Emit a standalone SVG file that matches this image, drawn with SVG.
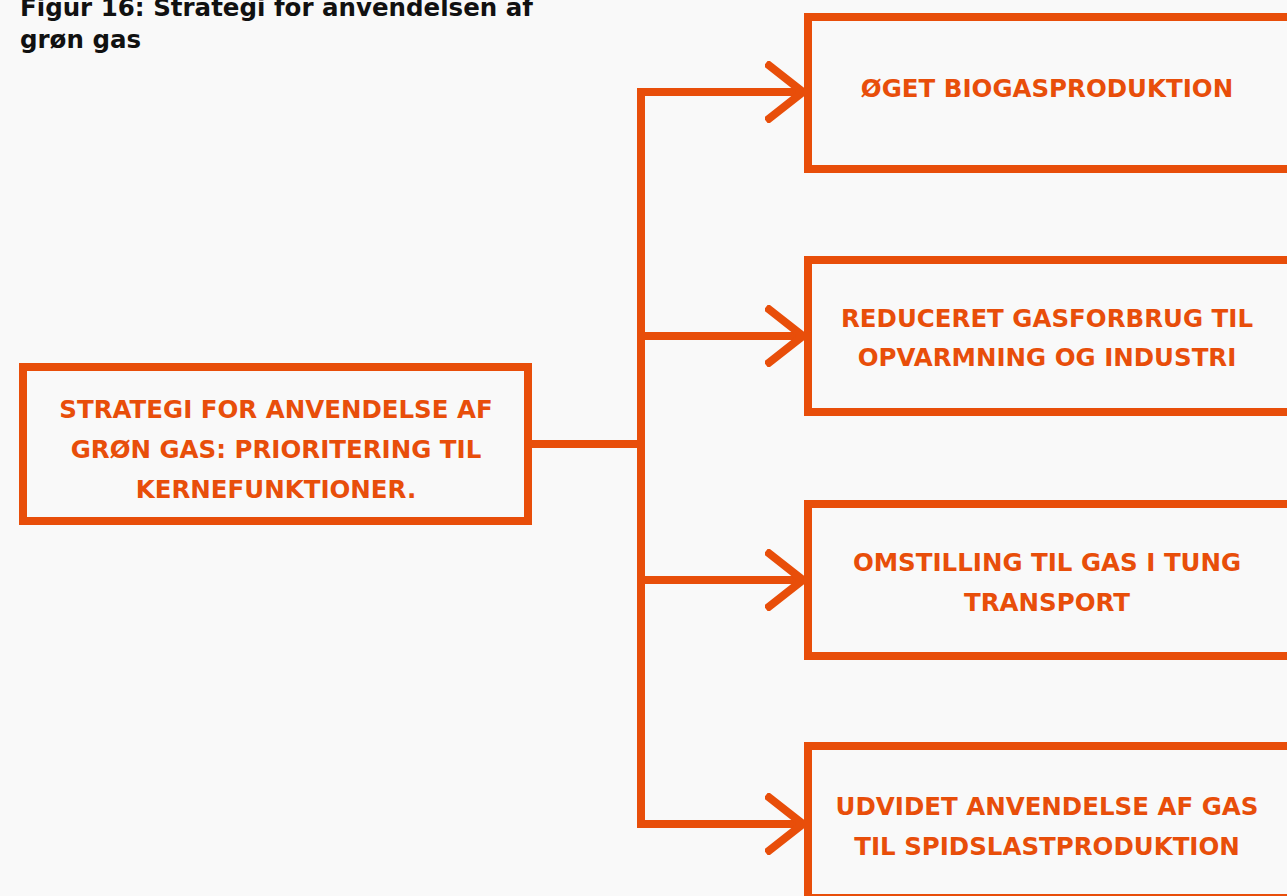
<svg xmlns="http://www.w3.org/2000/svg" width="1287" height="896" viewBox="0 0 1287 896">
<style>
.bg{fill:#f9f9f9}
.box{fill:none;stroke:#e84e0a;stroke-width:8}
.ln{fill:none;stroke:#e84e0a;stroke-width:8}
.t{font-family:"DejaVu Sans",Arial,sans-serif;font-weight:bold;font-size:24.5px;fill:#e84e0a;text-anchor:middle}
.title{font-family:"DejaVu Sans",Arial,sans-serif;font-weight:bold;font-size:24.5px;fill:#111}
</style>
<defs>
<marker id="chev" viewBox="0 0 40 62" markerWidth="40" markerHeight="62" refX="38" refY="31" orient="auto" markerUnits="userSpaceOnUse">
<path d="M1,2 L38,31 L1,60" fill="none" stroke="#e84e0a" stroke-width="8" stroke-linecap="butt"/>
</marker>
</defs>
<rect class="bg" x="0" y="0" width="1287" height="896"/>
<g id="title">
<text class="title" x="20" y="16" textLength="513" lengthAdjust="spacingAndGlyphs">Figur 16: Strategi for anvendelsen af</text>
<text class="title" x="20" y="48">grøn gas</text>
</g>
<g id="connectors">
<path class="ln" d="M532,444 H641"/>
<path class="ln" d="M641,88 V828"/>
<path class="ln" d="M637,92 H803" marker-end="url(#chev)"/>
<path class="ln" d="M641,336 H803" marker-end="url(#chev)"/>
<path class="ln" d="M641,580 H803" marker-end="url(#chev)"/>
<path class="ln" d="M637,824 H803" marker-end="url(#chev)"/>
</g>
<g id="root">
<rect class="box" x="23" y="367" width="505" height="154"/>
<text class="t" x="276" y="418">STRATEGI FOR ANVENDELSE AF</text>
<text class="t" x="276" y="458">GRØN GAS: PRIORITERING TIL</text>
<text class="t" x="276" y="498">KERNEFUNKTIONER.</text>
</g>
<g id="n1">
<rect class="box" x="808" y="17" width="500" height="152"/>
<text class="t" x="1047" y="97">ØGET BIOGASPRODUKTION</text>
</g>
<g id="n2">
<rect class="box" x="808" y="260" width="500" height="152"/>
<text class="t" x="1047" y="327">REDUCERET GASFORBRUG TIL</text>
<text class="t" x="1047" y="366">OPVARMNING OG INDUSTRI</text>
</g>
<g id="n3">
<rect class="box" x="808" y="504" width="500" height="152"/>
<text class="t" x="1047" y="571">OMSTILLING TIL GAS I TUNG</text>
<text class="t" x="1047" y="611">TRANSPORT</text>
</g>
<g id="n4">
<rect class="box" x="808" y="746" width="500" height="152"/>
<text class="t" x="1047" y="815">UDVIDET ANVENDELSE AF GAS</text>
<text class="t" x="1047" y="855">TIL SPIDSLASTPRODUKTION</text>
</g>
</svg>
